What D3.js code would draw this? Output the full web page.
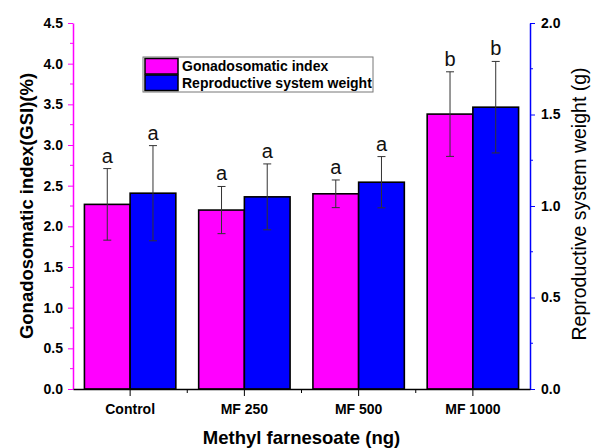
<!DOCTYPE html>
<html>
<head>
<meta charset="utf-8">
<script src="https://cdn.jsdelivr.net/npm/d3@7"></script>
<style>
  body { margin: 0; background: #fff; }
  svg { font-family: "Liberation Sans", Arial, sans-serif; }
</style>
</head>
<body>
<div id="chart"></div>
<script>
// data
const groups = ["Control", "MF 250", "MF 500", "MF 1000"];
const gsiMean = [2.27, 2.20, 2.40, 3.38];
const gsiErr = [0.44, 0.29, 0.17, 0.52];
const gsiLetter = ["a", "a", "a", "b"];
const weightMean = [1.07, 1.05, 1.13, 1.54];
const weightErr = [0.26, 0.18, 0.14, 0.25];
const weightLetter = ["a", "a", "a", "b"];
const leftTicks = [0, 0.5, 1.0, 1.5, 2.0, 2.5, 3.0, 3.5, 4.0, 4.5];
const rightTicks = [0, 0.5, 1.0, 1.5, 2.0];

const W = 591, H = 448;
const margin = { top: 23, right: 61, bottom: 59, left: 73 };
const innerW = W - margin.left - margin.right;
const innerH = H - margin.top - margin.bottom;

const svg = d3.select("#chart").append("svg")
    .attr("width", W)
    .attr("height", H);
const g = svg.append("g")
    .attr("transform", `translate(${margin.left},${margin.top})`);

const x = d3.scaleBand().domain(groups).range([0, innerW]).paddingInner(0.2).paddingOuter(0.1);
const x0 = d3.scaleBand().domain(groups).range([0, innerW]);
const sub = d3.scaleBand().domain(["gsi", "w"]).range([0, x.bandwidth()]);
const yL = d3.scaleLinear().domain([0, 4.5]).range([innerH, 0]);
const yR = d3.scaleLinear().domain([0, 2.0]).range([innerH, 0]);

const pink = "#ff00ff", blue = "#0000ff";

// bars
const series = [
    { key: "gsi", mean: gsiMean, err: gsiErr, letter: gsiLetter, y: yL, color: pink },
    { key: "w", mean: weightMean, err: weightErr, letter: weightLetter, y: yR, color: blue }
];

series.forEach(s => {
    groups.forEach((grp, i) => {
        const bx = x(grp) + sub(s.key);
        const bw = sub.bandwidth();
        g.append("rect")
            .attr("x", bx)
            .attr("y", s.y(s.mean[i]))
            .attr("width", bw)
            .attr("height", innerH - s.y(s.mean[i]))
            .attr("fill", s.color)
            .attr("stroke", "#000")
            .attr("stroke-width", 1.6);

        const cx = bx + bw / 2;
        const top = s.y(s.mean[i] + s.err[i]);
        const bot = s.y(s.mean[i] - s.err[i]);
        const eb = g.append("g").attr("stroke", "#333").attr("stroke-width", 1);
        eb.append("line").attr("x1", cx).attr("x2", cx).attr("y1", top).attr("y2", bot);
        eb.append("line").attr("x1", cx - 4).attr("x2", cx + 4).attr("y1", top).attr("y2", top);
        eb.append("line").attr("x1", cx - 4).attr("x2", cx + 4).attr("y1", bot).attr("y2", bot);

        g.append("text")
            .attr("x", cx)
            .attr("y", top - 6)
            .attr("text-anchor", "middle")
            .attr("font-size", 20)
            .attr("fill", "#111")
            .text(s.letter[i]);
    });
});

// left axis
const leftAxis = g.append("g")
    .call(d3.axisLeft(yL).tickValues(leftTicks).tickFormat(d3.format(".1f")).tickSize(5).tickSizeOuter(0));
leftAxis.select(".domain").attr("stroke", pink).attr("stroke-width", 1.5);
leftAxis.selectAll(".tick line").attr("stroke", pink);
leftAxis.selectAll(".tick text").attr("fill", "#000").attr("font-weight", "bold").attr("font-size", 14).attr("x", -10);
leftAxis.append("g").selectAll("line")
    .data(leftTicks.slice(0, -1).map(d => d + 0.25))
    .join("line")
    .attr("x1", 0).attr("x2", -3)
    .attr("y1", d => yL(d)).attr("y2", d => yL(d))
    .attr("stroke", pink);

// right axis
const rightAxis = g.append("g")
    .attr("transform", `translate(${innerW},0)`)
    .call(d3.axisRight(yR).tickValues(rightTicks).tickFormat(d3.format(".1f")).tickSize(5).tickSizeOuter(0));
rightAxis.select(".domain").attr("stroke", blue).attr("stroke-width", 1.5);
rightAxis.selectAll(".tick line").attr("stroke", blue);
rightAxis.selectAll(".tick text").attr("fill", "#000").attr("font-weight", "bold").attr("font-size", 14).attr("x", 11);
rightAxis.append("g").selectAll("line")
    .data(rightTicks.slice(0, -1).map(d => d + 0.25))
    .join("line")
    .attr("x1", 0).attr("x2", 3)
    .attr("y1", d => yR(d)).attr("y2", d => yR(d))
    .attr("stroke", blue);

// bottom axis
const bottomAxis = g.append("g")
    .attr("transform", `translate(0,${innerH})`)
    .call(d3.axisBottom(x0).tickSize(7).tickSizeOuter(0));
bottomAxis.select(".domain").attr("stroke", "#000").attr("stroke-width", 1.3);
bottomAxis.selectAll(".tick text").attr("font-weight", "bold").attr("font-size", 14).attr("y", 15);
bottomAxis.append("g").selectAll("line")
    .data(groups.slice(1))
    .join("line")
    .attr("x1", d => x0(d)).attr("x2", d => x0(d))
    .attr("y1", 0).attr("y2", 4)
    .attr("stroke", "#000");

// axis titles
svg.append("text")
    .attr("transform", `translate(33,${margin.top + innerH / 2}) rotate(-90)`)
    .attr("text-anchor", "middle")
    .attr("font-weight", "bold")
    .attr("font-size", 18.5)
    .text("Gonadosomatic index(GSI)(%)");

svg.append("text")
    .attr("transform", `translate(586,${margin.top + innerH / 2 - 2}) rotate(-90)`)
    .attr("text-anchor", "middle")
    .attr("font-size", 19.5)
    .text("Reproductive system weight (g)");

svg.append("text")
    .attr("x", margin.left + innerW / 2)
    .attr("y", 444)
    .attr("text-anchor", "middle")
    .attr("font-weight", "bold")
    .attr("font-size", 18.5)
    .text("Methyl farnesoate (ng)");

// legend
const legend = svg.append("g").attr("transform", "translate(143,57)");
legend.append("rect")
    .attr("width", 230).attr("height", 35)
    .attr("fill", "#fff").attr("stroke", "#777").attr("stroke-width", 1);
[{ label: "Gonadosomatic index", color: pink }, { label: "Reproductive system weight", color: blue }]
    .forEach((d, i) => {
        legend.append("rect")
            .attr("x", 2).attr("y", 1.5 + i * 16.5)
            .attr("width", 33).attr("height", 15.5)
            .attr("fill", d.color).attr("stroke", "#000").attr("stroke-width", 1.5);
        legend.append("text")
            .attr("x", 39).attr("y", 14 + i * 16.5)
            .attr("font-size", 14)
            .attr("font-weight", "bold")
            .text(d.label);
    });
</script>
</body>
</html>
